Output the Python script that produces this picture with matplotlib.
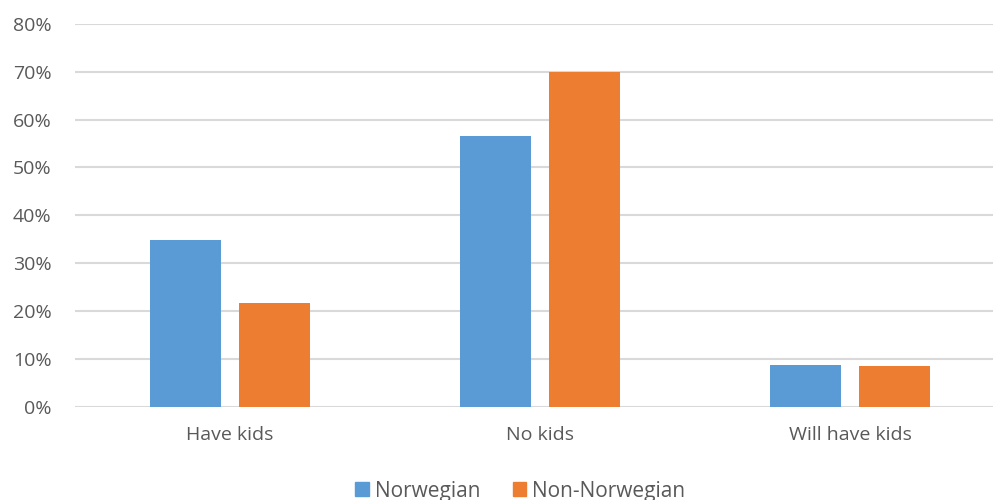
import matplotlib.pyplot as plt
import numpy as np
from matplotlib.patches import Patch
from matplotlib.ticker import PercentFormatter

categories = ["Have kids", "No kids", "Will have kids"]
norwegian = [34.8, 56.6, 8.7]
non_norwegian = [21.6, 70.0, 8.5]
series_names = ["Norwegian", "Non-Norwegian"]
colors = ["#5B9BD5", "#ED7D31"]

plt.rcParams['font.family'] = ['Open Sans', 'DejaVu Sans']
text_color = '#595959'

fig = plt.figure(figsize=(9.93, 5), dpi=100)
ax = fig.add_axes([75 / 993, 1 - 406.5 / 500, 930 / 993, 382.5 / 500])

x = np.arange(len(categories))
w = 0.229
off = 0.143
ax.bar(x - off, norwegian, w, color=colors[0], zorder=3)
ax.bar(x + off, non_norwegian, w, color=colors[1], zorder=3)

ax.set_xlim(-0.5, 2.5)
ax.set_ylim(0, 80)
ax.set_yticks(np.arange(0, 81, 10))
ax.yaxis.set_major_formatter(PercentFormatter(decimals=0))
ax.set_xticks(x)
ax.set_xticklabels(categories)
ax.grid(axis='y', color='#D9D9D9', linewidth=1.5, zorder=0)
for s in ax.spines.values():
    s.set_visible(False)
ax.tick_params(axis='both', length=0, colors=text_color, labelsize=14)
ax.tick_params(axis='y', pad=17)
ax.tick_params(axis='x', pad=14)

handles = [Patch(color=c) for c in colors]
fig.legend(handles, series_names, loc='center', bbox_to_anchor=(0.524, 0.018),
           ncol=2, frameon=False, fontsize=15, labelcolor=text_color,
           handlelength=0.65, handleheight=0.65, handletextpad=0.3, columnspacing=1.55)

fig.savefig('out.png', dpi=100)
